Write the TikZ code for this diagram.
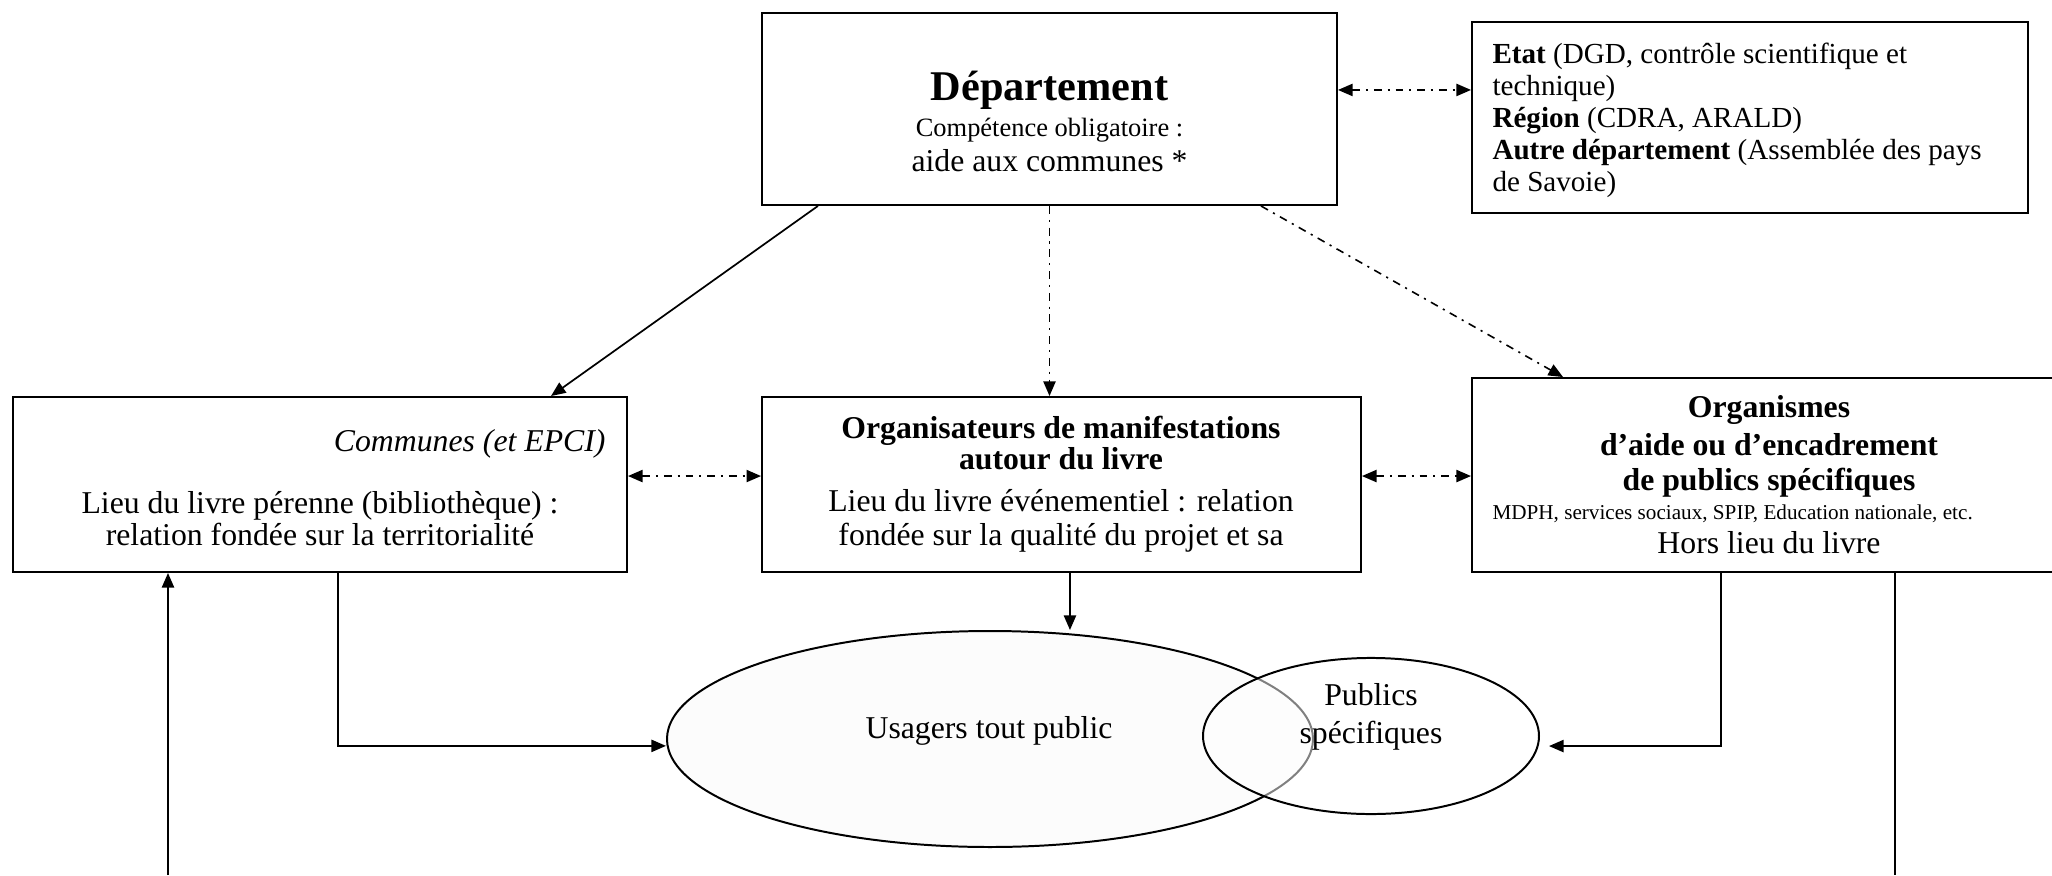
\documentclass[tikz,border=0pt]{standalone}
\usepackage{fontspec}
\setmainfont{Liberation Serif}
\usetikzlibrary{arrows.meta,shapes.geometric,calc}
\tikzset{
  box/.style={draw, line width=0.75pt, rectangle, inner sep=0pt, fill=white},
  txt/.style={inner sep=0pt, anchor=base, font=\fontsize{12}{14}\selectfont},
  etxt/.style={inner sep=0pt, anchor=base west, font=\fontsize{11}{13}\selectfont},
  tip/.style={-{Triangle[length=5.5pt,width=4.6pt]}},
  tips/.style={{Triangle[length=5.5pt,width=4.6pt]}-{Triangle[length=5.5pt,width=4.6pt]}},
  dd/.style={line width=0.6pt, dash pattern=on 3pt off 2.2pt on 0.8pt off 2.2pt},
  conn/.style={line width=0.65pt},
  ell/.style={ellipse, draw, line width=0.75pt, inner sep=0pt}
}
\begin{document}
\begin{tikzpicture}[x=0.378pt, y=-0.378pt]
\useasboundingbox (0,0) rectangle (2052,875);
\clip (0,0) rectangle (2052,875);

% ellipses
\node[ell, fill=black!1, minimum width=244.2pt, minimum height=81.65pt] (usagers) at (990,739) {};
\node[ell, fill=white, fill opacity=0.5, draw opacity=1, minimum width=127pt, minimum height=59pt] (publics) at (1371,736) {};

% boxes
\node[box, minimum width=217.35pt, minimum height=72.58pt] (dept) at (1049.5,109) {};
\node[box, minimum width=210.17pt, minimum height=72.2pt] (etat) at (1750,117.5) {};
\node[box, minimum width=232.1pt, minimum height=66.15pt] (comm) at (320,484.5) {};
\node[box, minimum width=226.4pt, minimum height=66.15pt] (org) at (1061.5,484.5) {};
\node[box, minimum width=223.8pt, minimum height=73.3pt] (orgs) at (1768,475) {};

% free ends
\coordinate (bl) at (168,875);
\coordinate (br) at (1895,875);

% connectors
\draw[conn,tip] ([xshift=21.5pt]dept.south west) -- ([xshift=-29.1pt]comm.north east);
\draw[dd,tip] (dept.south) -- (dept.south |- org.north);
\draw[dd,tip] ([xshift=-29.1pt]dept.south east) -- ([xshift=34.8pt]orgs.north west);
\draw[dd,tips] ([yshift=7.2pt]dept.east) -- ([yshift=7.2pt]dept.east -| etat.west);
\draw[dd,tips] ([yshift=3.2pt]comm.east) -- ([yshift=3.2pt]comm.east -| org.west);
\draw[dd,tips] ([yshift=3.2pt]org.east) -- ([yshift=3.2pt]org.east -| orgs.west);
\draw[conn,tip] ([xshift=3.2pt]org.south) -- ([xshift=3.2pt]org.south |- usagers.north);
\draw[conn,tip] ([xshift=123.2pt]comm.south west) |- ([yshift=-2.6pt]usagers.west);
\draw[conn,tip] ([xshift=94.5pt]orgs.south west) |- ([xshift=3.4pt,yshift=-3.8pt]publics.east);
\draw[conn,tip] (bl) -- (bl |- comm.south);
\draw[conn] (orgs.south -| br) -- (br);

% texts
\node[txt, font=\fontsize{16}{18}\selectfont\bfseries] (deptT) at (1049.5,100) {Département};
\node[txt, font=\fontsize{10}{12}\selectfont] (deptC) at (1049.5,136) {Compétence obligatoire :};
\node[txt] (deptA) at (1049.5,171) {aide aux communes *};

\node[etxt] (e1) at (1492,63) {\textbf{Etat} (DGD, contrôle scientifique et};
\node[etxt] (e2) at (1492,95) {technique)};
\node[etxt] (e3) at (1492,127) {\textbf{Région} (CDRA, ARALD)};
\node[etxt] (e4) at (1492,159) {\textbf{Autre département} (Assemblée des pays};
\node[etxt] (e5) at (1492,191) {de Savoie)};

\node[txt, anchor=base east] (c0) at (606,451) {\itshape Communes (et EPCI)};
\node[txt] (c1) at (320,513) {Lieu du livre pérenne (bibliothèque) :};
\node[txt] (c2) at (320,545) {relation fondée sur la territorialité};

\node[txt, font=\fontsize{12}{14}\selectfont\bfseries] (o1) at (1061,438) {Organisateurs de manifestations};
\node[txt, font=\fontsize{12}{14}\selectfont\bfseries] (o2) at (1061,469) {autour du livre};
\node[txt] (o3) at (1061,511) {Lieu du livre événementiel : relation};
\node[txt] (o4) at (1061,545) {fondée sur la qualité du projet et sa};

\node[txt, font=\fontsize{12}{14}\selectfont\bfseries] (g1) at (1769,417) {Organismes};
\node[txt, font=\fontsize{12}{14}\selectfont\bfseries] (g2) at (1769,455) {d’aide ou d’encadrement};
\node[txt, font=\fontsize{12}{14}\selectfont\bfseries] (g3) at (1769,490) {de publics spécifiques};
\node[txt, anchor=base west, font=\fontsize{8}{10}\selectfont] (g4) at (1492,519) {MDPH, services sociaux, SPIP, Education nationale, etc.};
\node[txt] (g5) at (1769,553) {Hors lieu du livre};

\node[txt] (u1) at (989,738) {Usagers tout public};
\node[txt] (p1) at (1371,705) {Publics};
\node[txt] (p2) at (1371,743) {spécifiques};
\end{tikzpicture}
\end{document}
